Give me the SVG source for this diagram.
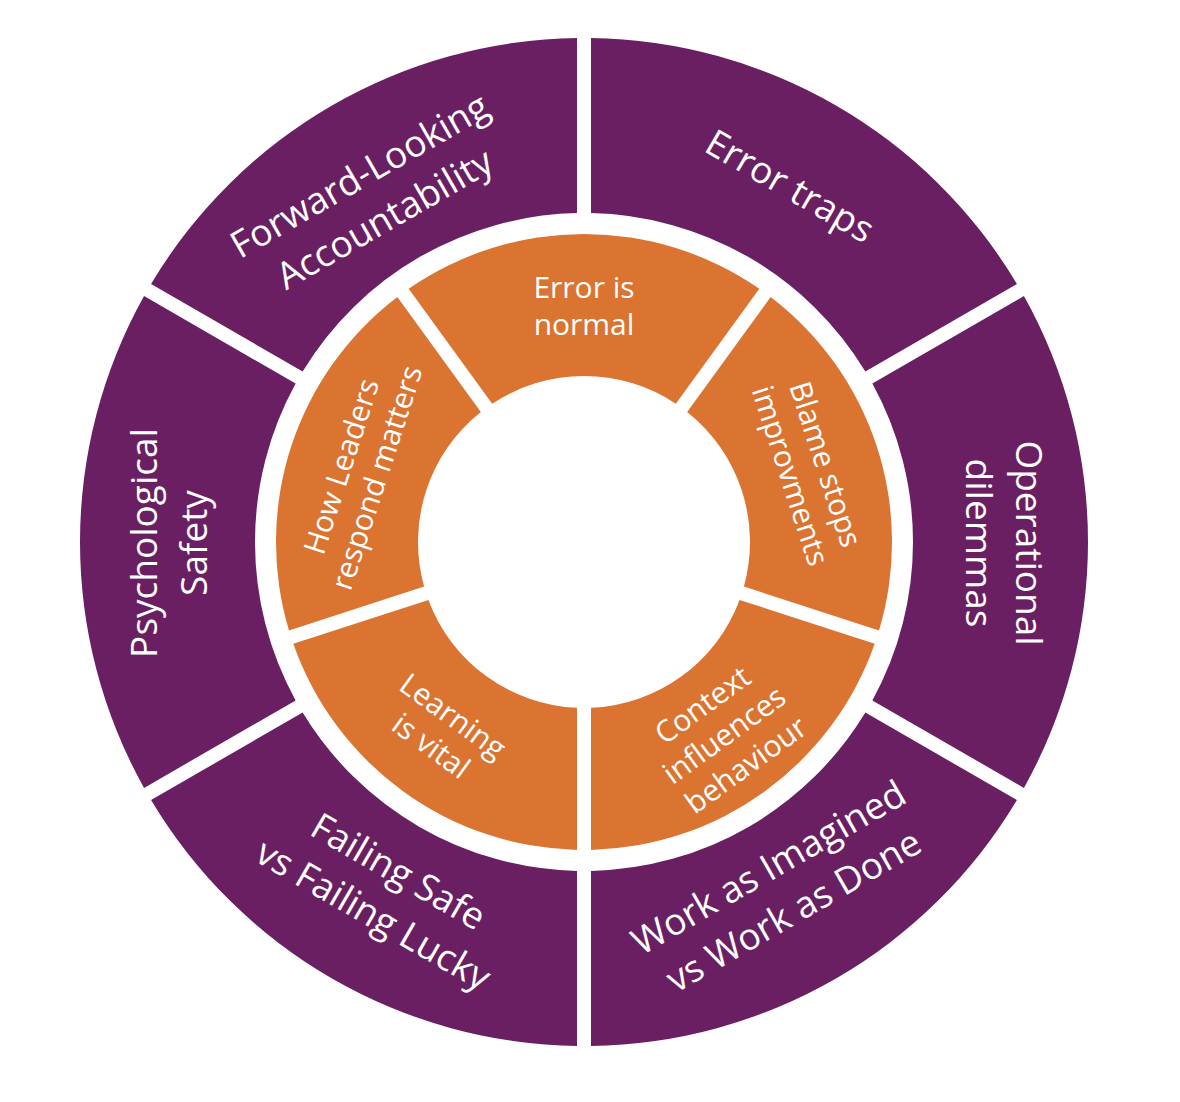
<svg xmlns="http://www.w3.org/2000/svg" width="1180" height="1102" viewBox="0 0 1180 1102">
<style>
.p{fill:#6A1F62}
.o{fill:#DB7431}
.t{font-family:"Open Sans","Liberation Sans",sans-serif;fill:#ffffff;text-anchor:middle}
.tp{font-size:37px}
.to{font-size:30px}
</style>
<rect width="1180" height="1102" fill="#ffffff"/>
<g id="outer-ring">
<g id="error-traps">
<path class="p" d="M 591 38.05 A 504 504 0 0 1 1016.93 283.96 L 865.36 371.48 A 329 329 0 0 0 591 213.07 Z"/>
<text class="t tp" transform="translate(790 186) rotate(30)"><tspan x="0" y="13">Error traps</tspan></text>
</g>
<g id="operational-dilemmas">
<path class="p" d="M 1023.93 296.09 A 504 504 0 0 1 1023.93 787.91 L 872.36 700.40 A 329 329 0 0 0 872.36 383.60 Z"/>
<text class="t tp" transform="translate(1004 543) rotate(90)"><tspan x="0" y="-12">Operational</tspan><tspan x="0" y="38">dilemmas</tspan></text>
</g>
<g id="work-as-imagined">
<path class="p" d="M 1016.93 800.04 A 504 504 0 0 1 591 1045.95 L 591 870.93 A 329 329 0 0 0 865.36 712.53 Z"/>
<text class="t tp" transform="translate(781 889) rotate(-30)"><tspan x="0" y="-12">Work as Imagined</tspan><tspan x="0" y="38">vs Work as Done</tspan></text>
</g>
<g id="failing-safe">
<path class="p" d="M 577 1045.95 A 504 504 0 0 1 151.07 800.04 L 302.64 712.53 A 329 329 0 0 0 577 870.93 Z"/>
<text class="t tp" transform="translate(386 893) rotate(30)"><tspan x="0" y="-12">Failing Safe</tspan><tspan x="0" y="38">vs Failing Lucky</tspan></text>
</g>
<g id="psychological-safety">
<path class="p" d="M 144.07 787.91 A 504 504 0 0 1 144.07 296.09 L 295.64 383.60 A 329 329 0 0 0 295.64 700.40 Z"/>
<text class="t tp" transform="translate(169 543) rotate(-90)"><tspan x="0" y="-12">Psychological</tspan><tspan x="0" y="38">Safety</tspan></text>
</g>
<g id="forward-looking">
<path class="p" d="M 151.07 283.96 A 504 504 0 0 1 577 38.05 L 577 213.07 A 329 329 0 0 0 302.64 371.48 Z"/>
<text class="t tp" transform="translate(372 197) rotate(-30)"><tspan x="0" y="-12">Forward-Looking</tspan><tspan x="0" y="38">Accountability</tspan></text>
</g>
</g>
<g id="inner-ring">
<g id="error-is-normal">
<path class="o" d="M 408.67 288.77 A 308 308 0 0 1 759.33 288.77 L 675.82 403.71 A 166 166 0 0 0 492.18 403.71 Z"/>
<text class="t to" transform="translate(584 306)"><tspan x="0" y="-8">Error is</tspan><tspan x="0" y="29">normal</tspan></text>
</g>
<g id="blame-stops">
<path class="o" d="M 770.65 297.00 A 308 308 0 0 1 879.01 630.50 L 743.90 586.59 A 166 166 0 0 0 687.15 411.94 Z"/>
<text class="t to" transform="translate(808 470) rotate(72)"><tspan x="0" y="-8">Blame stops</tspan><tspan x="0" y="29">improvments</tspan></text>
</g>
<g id="context-influences">
<path class="o" d="M 874.69 643.81 A 308 308 0 0 1 591 849.92 L 591 707.85 A 166 166 0 0 0 739.57 599.91 Z"/>
<text class="t to" transform="translate(723.9 734.5) rotate(-36)"><tspan x="0" y="-26">Context</tspan><tspan x="0" y="11">influences</tspan><tspan x="0" y="48">behaviour</tspan></text>
</g>
<g id="learning-is-vital">
<path class="o" d="M 577 849.92 A 308 308 0 0 1 293.31 643.81 L 428.43 599.91 A 166 166 0 0 0 577 707.85 Z"/>
<text class="t to" transform="translate(442 731) rotate(36)"><tspan x="0" y="-8">Learning</tspan><tspan x="0" y="29">is vital</tspan></text>
</g>
<g id="how-leaders">
<path class="o" d="M 288.99 630.50 A 308 308 0 0 1 397.35 297.00 L 480.85 411.94 A 166 166 0 0 0 424.10 586.59 Z"/>
<text class="t to" transform="translate(359 472) rotate(-72)"><tspan x="0" y="-8">How Leaders</tspan><tspan x="0" y="29">respond matters</tspan></text>
</g>
</g>
</svg>
